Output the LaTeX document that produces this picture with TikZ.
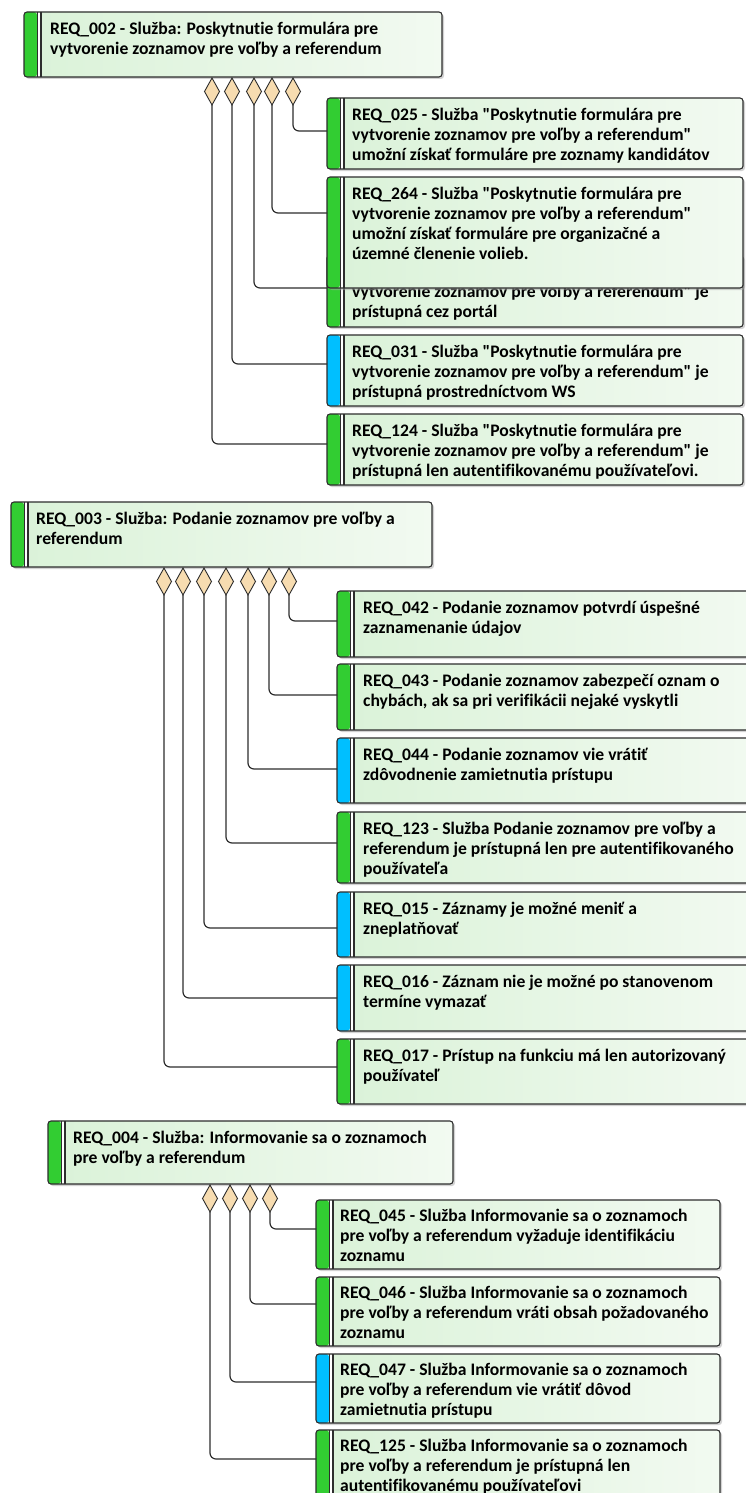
\documentclass[tikz,border=0pt]{standalone}
\usepackage{fontspec}
\newfontfamily\reqface[Ligatures=NoCommon]{Carlito}
\usetikzlibrary{shapes.geometric,shadows}

\definecolor{reqgreen}{RGB}{50,205,50}
\definecolor{reqblue}{RGB}{0,191,255}
\definecolor{bodyleft}{RGB}{218,242,216}
\definecolor{bodyright}{RGB}{242,250,241}
\definecolor{aggfill}{RGB}{247,220,176}
\definecolor{edge}{RGB}{45,45,45}

\newcommand{\reqfont}{\reqface\fontsize{17.6}{20}\selectfont\bfseries}

\tikzset{
  req/.style={draw=edge, line width=1.1pt, rounded corners=3pt, outer sep=0pt,
    left color=bodyleft, right color=bodyright, inner sep=0pt, anchor=north west,
    drop shadow={shadow xshift=2pt, shadow yshift=-2pt, fill=black!35},
    path picture={
      \fill[#1] (path picture bounding box.north west) rectangle ([xshift=13pt]path picture bounding box.south west);
      \fill[white] ([xshift=13pt]path picture bounding box.north west) rectangle ([xshift=17pt]path picture bounding box.south west);
      \draw[edge, line width=1pt] ([xshift=13.5pt]path picture bounding box.north west) -- ([xshift=13.5pt]path picture bounding box.south west);
      \draw[edge, line width=1.6pt] ([xshift=17pt]path picture bounding box.north west) -- ([xshift=17pt]path picture bounding box.south west);
    }},
  reqtext/.style={anchor=north west, inner sep=0pt, align=left, font=\reqfont, execute at begin node=\strut},
  agg/.style={diamond, draw=edge, line width=0.9pt, fill=aggfill, inner sep=0pt, outer sep=0pt,
    minimum width=15pt, minimum height=27pt, anchor=north},
  conn/.style={draw=edge, line width=1.2pt, rounded corners=6pt}
}

\begin{document}
\begin{tikzpicture}[x=1pt, y=-1pt]
  \useasboundingbox (0,0) rectangle (746,1493);

  % REQ_002 and its parts
  \node[req=reqgreen, minimum width=418pt, minimum height=65pt] (r002) at (24,12) {};
  \node[reqtext] (t002) at ([xshift=26pt,yshift=-10pt]r002.north west) {REQ\_002 - Služba: Poskytnutie formulára pre\\vytvorenie zoznamov pre voľby a referendum};

  \node[req=reqgreen, minimum width=416pt, minimum height=71pt] (r025) at (327,98) {};
  \node[reqtext] (t025) at ([xshift=25pt,yshift=-10pt]r025.north west) {REQ\_025 - Služba "Poskytnutie formulára pre\\vytvorenie zoznamov pre voľby a referendum"\\umožní získať formuláre pre zoznamy kandidátov};

  % partly hidden behind REQ_264
  \node[req=reqgreen, minimum width=416pt, minimum height=72pt] (rportal) at (327,255) {};
  \node[reqtext] (tportal) at ([xshift=25pt,yshift=-30pt]rportal.north west) {vytvorenie zoznamov pre voľby a referendum" je\\prístupná cez portál};

  \node[req=reqgreen, minimum width=416pt, minimum height=111pt] (r264) at (327,177) {};
  \node[reqtext] (t264) at ([xshift=25pt,yshift=-10pt]r264.north west) {REQ\_264 - Služba "Poskytnutie formulára pre\\vytvorenie zoznamov pre voľby a referendum"\\umožní získať formuláre pre organizačné a\\územné členenie volieb.};

  \node[req=reqblue, minimum width=416pt, minimum height=71pt] (r031) at (327,335) {};
  \node[reqtext] (t031) at ([xshift=25pt,yshift=-10pt]r031.north west) {REQ\_031 - Služba "Poskytnutie formulára pre\\vytvorenie zoznamov pre voľby a referendum" je\\prístupná prostredníctvom WS};

  \node[req=reqgreen, minimum width=416pt, minimum height=71pt] (r124) at (327,414) {};
  \node[reqtext] (t124) at ([xshift=25pt,yshift=-10pt]r124.north west) {REQ\_124 - Služba "Poskytnutie formulára pre\\vytvorenie zoznamov pre voľby a referendum" je\\prístupná len autentifikovanému používateľovi.};

  \node[agg] (a124) at (212,78) {};
  \node[agg] (a031) at (232,78) {};
  \node[agg] (aportal) at (254,78) {};
  \node[agg] (a264) at (272,78) {};
  \node[agg] (a025) at (293,78) {};

  \draw[conn] (a025.south) |- ([yshift=-33pt]r025.north west);
  \draw[conn] (a264.south) |- ([yshift=-36pt]r264.north west);
  \draw[conn] (aportal.south) |- ([yshift=-33pt]rportal.north west);
  \draw[conn] (a031.south) |- ([yshift=-29pt]r031.north west);
  \draw[conn] (a124.south) |- ([yshift=-30pt]r124.north west);

  % REQ_003 and its parts
  \node[req=reqgreen, minimum width=421pt, minimum height=65pt] (r003) at (11,502) {};
  \node[reqtext] (t003) at ([xshift=25pt,yshift=-10pt]r003.north west) {REQ\_003 - Služba: Podanie zoznamov pre voľby a\\referendum};

  \node[req=reqgreen, minimum width=423pt, minimum height=66pt] (r042) at (337,591) {};
  \node[reqtext] (t042) at ([xshift=26pt,yshift=-10pt]r042.north west) {REQ\_042 - Podanie zoznamov potvrdí úspešné\\zaznamenanie údajov};

  \node[req=reqgreen, minimum width=423pt, minimum height=66pt] (r043) at (337,664) {};
  \node[reqtext] (t043) at ([xshift=26pt,yshift=-10pt]r043.north west) {REQ\_043 - Podanie zoznamov zabezpečí oznam o\\chybách, ak sa pri verifikácii nejaké vyskytli};

  \node[req=reqblue, minimum width=423pt, minimum height=65pt] (r044) at (337,738) {};
  \node[reqtext] (t044) at ([xshift=26pt,yshift=-10pt]r044.north west) {REQ\_044 - Podanie zoznamov vie vrátiť\\zdôvodnenie zamietnutia prístupu};

  \node[req=reqgreen, minimum width=423pt, minimum height=71pt] (r123) at (337,812) {};
  \node[reqtext] (t123) at ([xshift=26pt,yshift=-10pt]r123.north west) {REQ\_123 - Služba Podanie zoznamov pre voľby a\\referendum je prístupná len pre autentifikovaného\\používateľa};

  \node[req=reqblue, minimum width=423pt, minimum height=65pt] (r015) at (337,892) {};
  \node[reqtext] (t015) at ([xshift=26pt,yshift=-10pt]r015.north west) {REQ\_015 - Záznamy je možné meniť a\\zneplatňovať};

  \node[req=reqblue, minimum width=423pt, minimum height=66pt] (r016) at (337,965) {};
  \node[reqtext] (t016) at ([xshift=26pt,yshift=-10pt]r016.north west) {REQ\_016 - Záznam nie je možné po stanovenom\\termíne vymazať};

  \node[req=reqgreen, minimum width=423pt, minimum height=65pt] (r017) at (337,1039) {};
  \node[reqtext] (t017) at ([xshift=26pt,yshift=-10pt]r017.north west) {REQ\_017 - Prístup na funkciu má len autorizovaný\\používateľ};

  \node[agg] (a017) at (164,568) {};
  \node[agg] (a016) at (183,568) {};
  \node[agg] (a015) at (204,568) {};
  \node[agg] (a123) at (226,568) {};
  \node[agg] (a044) at (248,568) {};
  \node[agg] (a043) at (269,568) {};
  \node[agg] (a042) at (289,568) {};

  \draw[conn] (a042.south) |- ([yshift=-30pt]r042.north west);
  \draw[conn] (a043.south) |- ([yshift=-31pt]r043.north west);
  \draw[conn] (a044.south) |- ([yshift=-31pt]r044.north west);
  \draw[conn] (a123.south) |- ([yshift=-31pt]r123.north west);
  \draw[conn] (a015.south) |- ([yshift=-36pt]r015.north west);
  \draw[conn] (a016.south) |- ([yshift=-33pt]r016.north west);
  \draw[conn] (a017.south) |- ([yshift=-28pt]r017.north west);

  % REQ_004 and its parts
  \node[req=reqgreen, minimum width=405pt, minimum height=63pt] (r004) at (48,1121) {};
  \node[reqtext] (t004) at ([xshift=25pt,yshift=-10pt]r004.north west) {REQ\_004 - Služba: Informovanie sa o zoznamoch\\pre voľby a referendum};

  \node[req=reqgreen, minimum width=404pt, minimum height=69pt] (r045) at (316,1200) {};
  \node[reqtext] (t045) at ([xshift=24pt,yshift=-9pt]r045.north west) {REQ\_045 - Služba Informovanie sa o zoznamoch\\pre voľby a referendum vyžaduje identifikáciu\\zoznamu};

  \node[req=reqgreen, minimum width=404pt, minimum height=69pt] (r046) at (316,1277) {};
  \node[reqtext] (t046) at ([xshift=24pt,yshift=-9pt]r046.north west) {REQ\_046 - Služba Informovanie sa o zoznamoch\\pre voľby a referendum vráti obsah požadovaného\\zoznamu};

  \node[req=reqblue, minimum width=404pt, minimum height=69pt] (r047) at (316,1354) {};
  \node[reqtext] (t047) at ([xshift=24pt,yshift=-9pt]r047.north west) {REQ\_047 - Služba Informovanie sa o zoznamoch\\pre voľby a referendum vie vrátiť dôvod\\zamietnutia prístupu};

  \node[req=reqgreen, minimum width=404pt, minimum height=69pt] (r125) at (316,1430) {};
  \node[reqtext] (t125) at ([xshift=24pt,yshift=-9pt]r125.north west) {REQ\_125 - Služba Informovanie sa o zoznamoch\\pre voľby a referendum je prístupná len\\autentifikovanému používateľovi};

  \node[agg] (a125) at (210,1185) {};
  \node[agg] (a047) at (230,1185) {};
  \node[agg] (a046) at (250,1185) {};
  \node[agg] (a045) at (270,1185) {};

  \draw[conn] (a045.south) |- ([yshift=-29pt]r045.north west);
  \draw[conn] (a046.south) |- ([yshift=-27pt]r046.north west);
  \draw[conn] (a047.south) |- ([yshift=-28pt]r047.north west);
  \draw[conn] (a125.south) |- ([yshift=-29pt]r125.north west);
\end{tikzpicture}
\end{document}
